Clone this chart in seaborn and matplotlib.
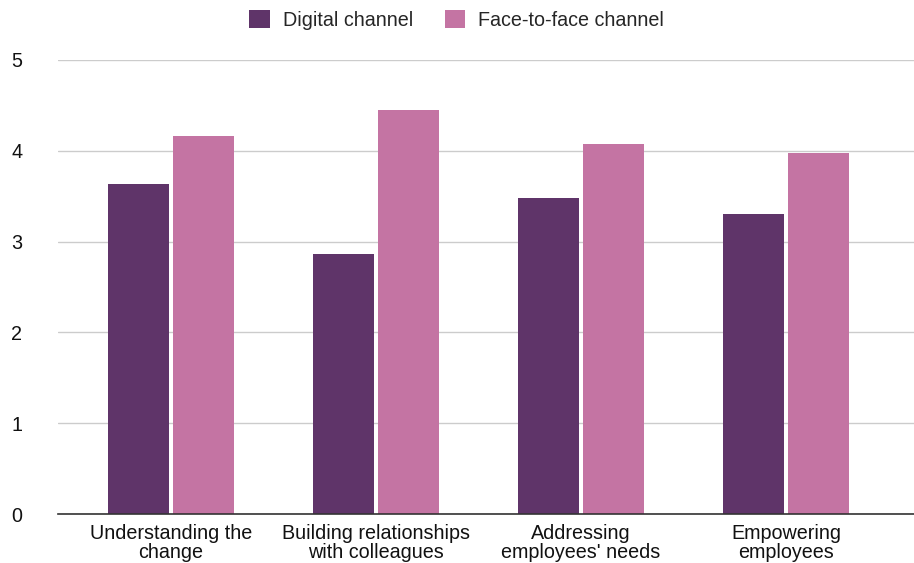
import matplotlib
matplotlib.use("Agg")
import matplotlib.pyplot as plt
import seaborn as sns
import pandas as pd
from matplotlib.patches import Patch

categories = ["Understanding the\nchange", "Building relationships\nwith colleagues",
              "Addressing\nemployees' needs", "Empowering\nemployees"]
digital = [3.63, 2.86, 3.48, 3.30]
face_to_face = [4.16, 4.45, 4.07, 3.98]
series = ["Digital channel", "Face-to-face channel"]
colors = ["#5f3469", "#c474a3"]
y_ticks = [0, 1, 2, 3, 4, 5]

df = pd.DataFrame({
    "category": categories * 2,
    "value": digital + face_to_face,
    "channel": [series[0]] * len(categories) + [series[1]] * len(categories),
})

sns.set_theme(style="white")
plt.rcParams["font.family"] = ["Liberation Sans", "DejaVu Sans"]
FS = 14.2

fig = plt.figure(figsize=(9.14, 5.63), dpi=100)
ax = fig.add_axes([58 / 914, 1 - 514 / 563, 1 - 58 / 914, (514 - 60) / 563])

sns.barplot(data=df, x="category", y="value", hue="channel", palette=colors,
            width=0.634, gap=0.06, ax=ax, legend=False, saturation=1,
            edgecolor="none", linewidth=0)

ax.set_ylim(0, 5)
ax.set_xlim(-0.551, 3.624)
ax.set_yticks(y_ticks)
ax.yaxis.grid(True, color="#cccccc", linewidth=1)
ax.set_axisbelow(True)
for s in ["top", "right", "left"]:
    ax.spines[s].set_visible(False)
ax.spines["bottom"].set_color("#333333")
ax.spines["bottom"].set_linewidth(1.2)
ax.tick_params(axis="both", length=0, labelsize=FS, colors="#111111")
ax.tick_params(axis="y", pad=33.5)
ax.tick_params(axis="x", pad=7)
for lab in ax.get_yticklabels():
    lab.set_horizontalalignment("left")
for lab in ax.get_xticklabels():
    lab.set_linespacing(1.05)
ax.set_xlabel("")
ax.set_ylabel("")

handles = [Patch(facecolor=c, edgecolor="none") for c in colors]
fig.legend(handles, series, loc="center", bbox_to_anchor=(0.4995, 1 - 20 / 563),
           ncol=2, frameon=False, fontsize=FS, handlelength=1.05,
           handleheight=1.0, columnspacing=1.6, handletextpad=0.65,
           borderaxespad=0, borderpad=0)

fig.savefig("out.png", dpi=100)
